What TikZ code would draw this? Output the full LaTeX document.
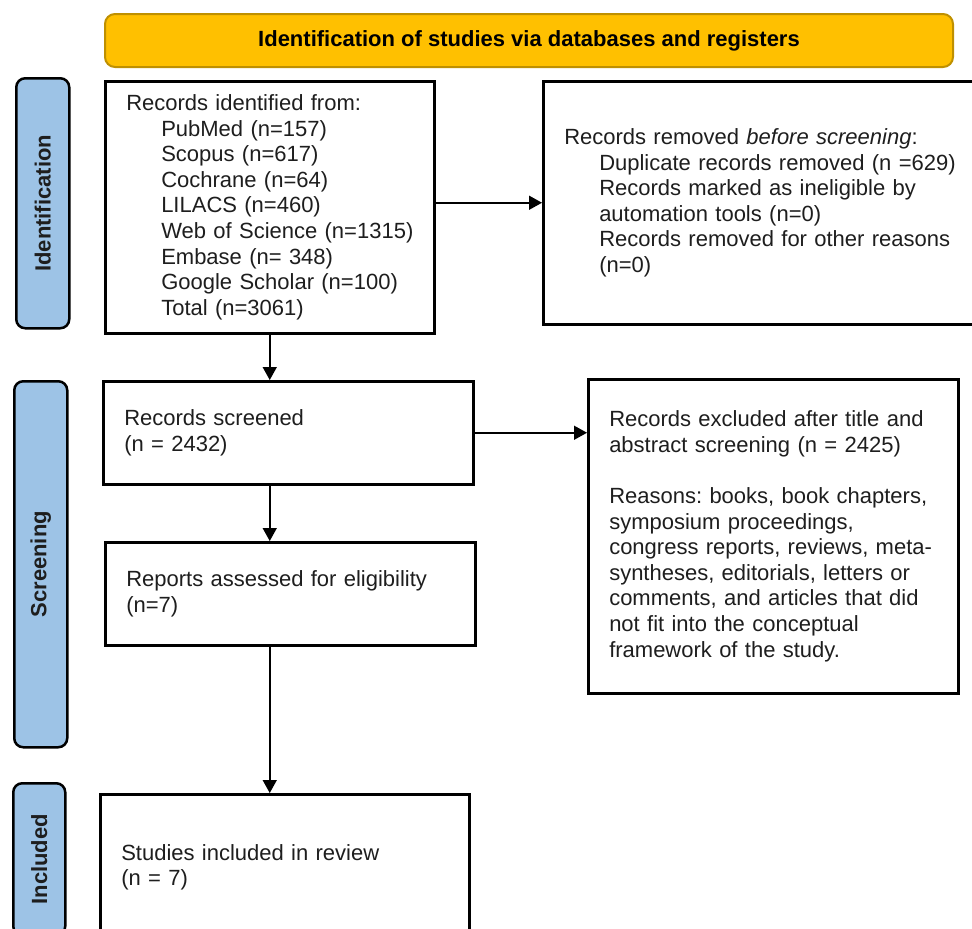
\documentclass[tikz,border=0pt]{standalone}
\usepackage{fontspec}
\setmainfont{Liberation Sans}
\usetikzlibrary{arrows.meta}
\definecolor{hdrfill}{HTML}{FFC000}
\definecolor{hdrdraw}{HTML}{BF9000}
\definecolor{sideblue}{HTML}{9DC3E6}
\definecolor{txt}{HTML}{1E1E1E}
\frenchspacing
\begin{document}
\begin{tikzpicture}[x=1pt,y=-1pt,
  box/.style={draw=black,line width=2.5pt,fill=white,rectangle,anchor=north west,
    inner xsep=20pt,inner ysep=0pt,align=left,text=txt,
    font=\frenchspacing\fontsize{22}{25.6}\selectfont},
  hdr/.style={draw=hdrdraw,line width=2pt,fill=hdrfill,rounded corners=10pt,
    anchor=north west,inner sep=0pt,text=black,
    font=\bfseries\fontsize{22}{26}\selectfont},
  side/.style={draw=black,line width=2.5pt,fill=sideblue,rounded corners=9pt,
    anchor=north west,inner sep=0pt},
  sidetext/.style={rotate=90,inner sep=0pt,text=txt,
    font=\bfseries\fontsize{22}{26}\selectfont},
  conn/.style={line width=1.5pt,-{Triangle[length=13pt,width=14pt]}}]
\useasboundingbox (0,0) rectangle (972,929);
\clip (0,0) rectangle (972,929);

% header
\node[hdr, minimum width=848pt, minimum height=53pt] (hdr) at (104,13)
  {Identification of studies via databases and registers};

% side labels
\node[side, minimum width=53pt, minimum height=250pt] (lid) at (15,77) {};
\node[sidetext] (tid) at (lid.center) {Identification};
\node[side, minimum width=53pt, minimum height=366pt] (lsc) at (13,380) {};
\node[sidetext] (tsc) at (lsc.center) {Screening};
\node[side, minimum width=52pt, minimum height=152pt] (lin) at (12,782) {};
\node[sidetext] (tin) at (lin.center) {Included};

% boxes
\node[box, minimum width=329pt, minimum height=252pt, text width=287pt] (box1) at (104,80)
  {Records identified from:\\
   \hspace*{35pt}\mbox{PubMed (n=157)}\\
   \hspace*{35pt}\mbox{Scopus (n=617)}\\
   \hspace*{35pt}\mbox{Cochrane (n=64)}\\
   \hspace*{35pt}\mbox{LILACS (n=460)}\\
   \hspace*{35pt}\mbox{Web of Science (n=1315)}\\
   \hspace*{35pt}\mbox{Embase (n= 348)}\\
   \hspace*{35pt}\mbox{Google Scholar (n=100)}\\
   \hspace*{35pt}\mbox{Total (n=3061)}};

\node[box, minimum width=440pt, minimum height=243pt, text width=398pt] (box2) at (542,80)
  {Records removed \textit{before screening}:\\
   \hspace*{35pt}Duplicate records removed (n =629)\\
   \hspace*{35pt}Records marked as ineligible by\\
   \hspace*{35pt}automation tools (n=0)\\
   \hspace*{35pt}Records removed for other reasons\\
   \hspace*{35pt}(n=0)};

\node[box, minimum width=370pt, minimum height=103pt, text width=328pt] (box3) at (102,380)
  {Records screened\\(n = 2432)};

\node[box, minimum width=370pt, minimum height=314pt, text width=328pt] (box4) at (587,378)
  {Records excluded after title and\\
   abstract screening (n = 2425)\\[25.6pt]
   Reasons: books, book chapters,\\
   symposium proceedings,\\
   congress reports, reviews, meta-\\
   syntheses, editorials, letters or\\
   comments, and articles that did\\
   not fit into the conceptual\\
   framework of the study.};

\node[box, minimum width=370pt, minimum height=103pt, text width=328pt] (box5) at (104,541)
  {Reports assessed for eligibility\\(n=7)};

\node[box, minimum width=369pt, minimum height=146pt, text width=327pt] (box6) at (99,793)
  {Studies included in review\\(n = 7)};

% connectors
\draw[conn] (box1.east |- box2.west) -- (box2.west);
\draw[conn] (box3.east) -- (box3.east -| box4.west);
\draw[conn] (box1.south) -- (box1.south |- box3.north);
\draw[conn] (box1.south |- box3.south) -- (box1.south |- box5.north);
\draw[conn] (box1.south |- box5.south) -- (box1.south |- box6.north);
\end{tikzpicture}
\end{document}
